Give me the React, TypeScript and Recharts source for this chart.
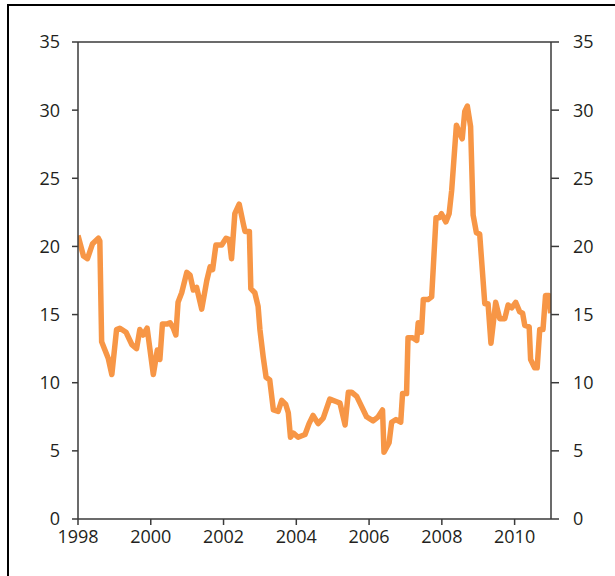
import React from "react";
import { LineChart, Line, XAxis, YAxis, ReferenceLine } from "recharts";

const years: number[] = [
  1998.0, 1998.15, 1998.26, 1998.4, 1998.56, 1998.6, 1998.65, 1998.74, 1998.83, 1998.93,
  1999.06, 1999.15, 1999.32, 1999.48, 1999.61, 1999.7, 1999.79, 1999.9, 2000.07, 2000.18,
  2000.25, 2000.32, 2000.44, 2000.53, 2000.62, 2000.69, 2000.75, 2000.85, 2000.99, 2001.08,
  2001.17, 2001.26, 2001.4, 2001.54, 2001.63, 2001.7, 2001.79, 2001.95, 2002.07, 2002.16,
  2002.22, 2002.31, 2002.43, 2002.54, 2002.59, 2002.71, 2002.75, 2002.86, 2002.95, 2003.0,
  2003.09, 2003.17, 2003.27, 2003.37, 2003.5, 2003.6, 2003.71, 2003.78, 2003.84, 2003.92,
  2004.05, 2004.24, 2004.35, 2004.46, 2004.6, 2004.74, 2004.92, 2005.11, 2005.2, 2005.34,
  2005.43, 2005.52, 2005.66, 2005.75, 2005.93, 2006.11, 2006.25, 2006.37, 2006.41, 2006.55,
  2006.62, 2006.74, 2006.87, 2006.92, 2007.03, 2007.07, 2007.2, 2007.31, 2007.35, 2007.44,
  2007.49, 2007.62, 2007.72, 2007.84, 2007.93, 2007.99, 2008.11, 2008.2, 2008.27, 2008.4,
  2008.49, 2008.56, 2008.63, 2008.7, 2008.79, 2008.86, 2008.95, 2009.04, 2009.18, 2009.27,
  2009.35, 2009.48, 2009.59, 2009.73, 2009.82, 2009.92, 2010.03, 2010.14, 2010.22, 2010.28,
  2010.4, 2010.44, 2010.55, 2010.62, 2010.69, 2010.78, 2010.85, 2010.94, 2010.99,
];

const values: number[] = [
  20.8, 19.3, 19.1, 20.2, 20.6, 20.4, 13.0, 12.4, 11.8, 10.6,
  13.9, 14.0, 13.7, 12.8, 12.5, 13.9, 13.5, 14.0, 10.6, 12.4,
  11.7, 14.3, 14.3, 14.4, 14.0, 13.5, 15.9, 16.6, 18.1, 17.9,
  16.8, 17.0, 15.4, 17.5, 18.5, 18.3, 20.1, 20.1, 20.6, 20.5,
  19.1, 22.4, 23.1, 21.7, 21.1, 21.1, 16.9, 16.6, 15.6, 13.9,
  11.9, 10.4, 10.2, 8.0, 7.9, 8.7, 8.4, 7.8, 6.0, 6.3,
  6.0, 6.2, 7.0, 7.6, 7.0, 7.4, 8.8, 8.6, 8.5, 6.9,
  9.3, 9.3, 9.0, 8.5, 7.5, 7.2, 7.5, 8.0, 4.9, 5.6,
  7.1, 7.3, 7.1, 9.2, 9.2, 13.3, 13.3, 13.1, 14.4, 13.7,
  16.1, 16.1, 16.3, 22.1, 22.1, 22.4, 21.8, 22.4, 24.1, 28.9,
  28.3, 27.9, 29.9, 30.3, 28.8, 22.3, 21.0, 20.9, 15.8, 15.8,
  12.9, 15.9, 14.7, 14.7, 15.7, 15.5, 15.9, 15.2, 15.1, 14.2,
  14.1, 11.7, 11.1, 11.1, 13.9, 13.9, 16.4, 16.4, 15.1,
];

const xTicks: number[] = [1998, 2000, 2002, 2004, 2006, 2008, 2010];
const yTicks: number[] = [0, 5, 10, 15, 20, 25, 30, 35];

const data = years.map((t, i) => ({ t, v: values[i] }));

const tickStyle = { fill: "#231f20", fontSize: 18, fontFamily: "Open Sans" };
const axisColor = "#3a3a3a";

export default function App() {
  return (
    <div style={{ position: "absolute", left: 0, top: 0, width: 615, height: 576, background: "#fff", overflow: "hidden" }}>
      <div
        style={{
          position: "absolute",
          left: 7,
          top: 4,
          width: 620,
          height: 600,
          borderLeft: "2px solid #000",
          borderTop: "2px solid #000",
        }}
      />
      <div style={{ position: "absolute", left: 0, top: 0 }}>
        <LineChart width={615} height={576} data={data} margin={{ top: 42, right: 0, bottom: 0, left: 0 }}>
          <XAxis
            dataKey="t"
            type="number"
            domain={[1998, 2011]}
            ticks={xTicks}
            allowDataOverflow
            height={57}
            tick={tickStyle}
            tickSize={6}
            tickMargin={5}
            stroke={axisColor}
            strokeWidth={1.5}
            tickLine={{ stroke: axisColor, strokeWidth: 1.5 }}
          />
          <YAxis
            yAxisId="left"
            orientation="left"
            type="number"
            domain={[0, 35]}
            allowDataOverflow
            ticks={yTicks}
            width={78}
            tick={tickStyle}
            tickSize={6}
            tickMargin={12}
            stroke={axisColor}
            strokeWidth={1.5}
            tickLine={{ stroke: axisColor, strokeWidth: 1.5 }}
          />
          <YAxis
            yAxisId="right"
            orientation="right"
            type="number"
            domain={[0, 35]}
            allowDataOverflow
            ticks={yTicks}
            width={64}
            tick={tickStyle}
            tickSize={8}
            tickMargin={14}
            stroke={axisColor}
            strokeWidth={1.5}
            tickLine={{ stroke: axisColor, strokeWidth: 1.5 }}
          />
          <ReferenceLine yAxisId="right" y={35} stroke={axisColor} strokeWidth={1.5} />
          <Line
            yAxisId="left"
            dataKey="v"
            type="linear"
            stroke="#f79646"
            strokeWidth={5.5}
            strokeLinejoin="round"
            dot={false}
            isAnimationActive={false}
          />
        </LineChart>
      </div>
    </div>
  );
}
